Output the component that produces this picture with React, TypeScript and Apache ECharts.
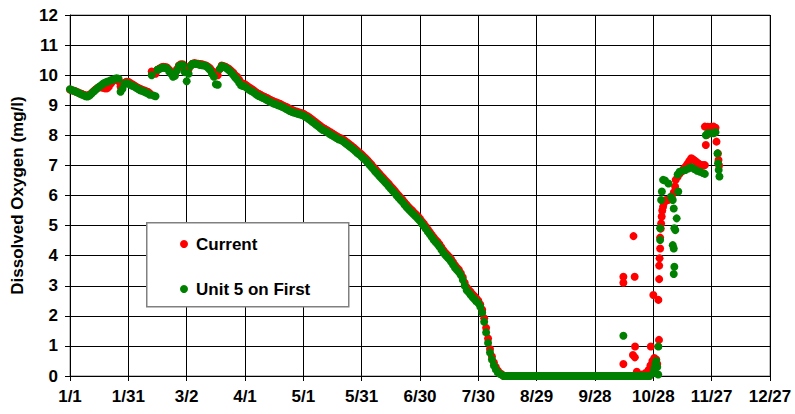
import React, { useEffect, useRef } from "react";
import * as echarts from "echarts";

// Date tick labels (one every 30 days starting 1/1)
const TICK_LABELS = ["1/1", "1/31", "3/2", "4/1", "5/1", "5/31", "6/30", "7/30", "8/29", "9/28", "10/28", "11/27", "12/27"];
const DAYS_PER_TICK = 30;

// Daily readings from day 0 (1/1) up to day 298 (just before fall turnover)
const currentSeason = [
  9.52, 9.50, 9.48, 9.46, 9.43, 9.40, 9.38, 9.35, 9.33, 9.32,
  9.35, 9.40, 9.46, 9.52, 9.57, 9.60, 9.60, 9.58, 9.56, 9.56,
  9.62, 9.72, 9.80, 9.85, 9.88, 9.80, 9.62, 9.65, 9.75, 9.78,
  9.78, 9.74, 9.70, 9.66, 9.62, 9.58, 9.55, 9.52, 9.50, 9.47,
  9.45, 9.40, 10.12, 10.08, 10.05, 10.18, 10.22, 10.26, 10.28, 10.27,
  10.25, 10.18, 10.10, 10.05, 10.05, 10.20, 10.32, 10.36, 10.36, 10.20,
  10.12, 10.20, 10.32, 10.38, 10.40, 10.39, 10.38, 10.37, 10.36, 10.34,
  10.32, 10.28, 10.23, 10.15, 10.10, 10.02, 10.00, 10.20, 10.32, 10.30,
  10.28, 10.24, 10.20, 10.14, 10.08, 10.00, 9.95, 9.85, 9.74, 9.72,
  9.70, 9.65, 9.60, 9.56, 9.52, 9.47, 9.42, 9.38, 9.35, 9.31,
  9.28, 9.25, 9.22, 9.18, 9.15, 9.12, 9.10, 9.07, 9.05, 9.01,
  8.98, 8.95, 8.92, 8.88, 8.85, 8.82, 8.80, 8.78, 8.76, 8.74,
  8.72, 8.68, 8.64, 8.60, 8.55, 8.50, 8.45, 8.40, 8.35, 8.30,
  8.25, 8.22, 8.18, 8.14, 8.10, 8.06, 8.02, 7.98, 7.94, 7.91,
  7.88, 7.84, 7.79, 7.74, 7.69, 7.64, 7.59, 7.53, 7.47, 7.42,
  7.36, 7.30, 7.24, 7.17, 7.10, 7.03, 6.95, 6.88, 6.81, 6.73,
  6.66, 6.59, 6.52, 6.45, 6.38, 6.30, 6.23, 6.16, 6.08, 6.00,
  5.93, 5.86, 5.78, 5.70, 5.63, 5.56, 5.50, 5.43, 5.37, 5.30,
  5.23, 5.14, 5.06, 4.97, 4.88, 4.79, 4.70, 4.61, 4.53, 4.46,
  4.38, 4.28, 4.18, 4.10, 4.03, 3.96, 3.88, 3.78, 3.68, 3.60,
  3.53, 3.42, 3.28, 3.10, 2.95, 2.87, 2.80, 2.72, 2.65, 2.58,
  2.50, 2.38, 2.20, 1.92, 1.60, 1.25, 0.90, 0.65, 0.45, 0.30,
  0.18, 0.10, 0.06, 0, 0, 0, 0, 0, 0, 0,
  0, 0, 0, 0, 0, 0, 0, 0, 0, 0,
  0, 0, 0, 0, 0, 0, 0, 0, 0, 0,
  0, 0, 0, 0, 0, 0, 0, 0, 0, 0,
  0, 0, 0, 0, 0, 0, 0, 0, 0, 0,
  0, 0, 0, 0, 0, 0, 0, 0, 0, 0,
  0, 0, 0, 0, 0, 0, 0, 0, 0, 0,
  0, 0, 0, 0, 0, 0, 0, 0, 0,
];

const unitSeason = [
  9.53, 9.50, 9.48, 9.45, 9.42, 9.39, 9.36, 9.33, 9.30, 9.29,
  9.32, 9.38, 9.45, 9.50, 9.56, 9.62, 9.66, 9.72, 9.75, 9.78,
  9.80, 9.83, 9.85, 9.88, 9.90, 9.88, 9.45, 9.55, 9.70, 9.74,
  9.72, 9.68, 9.65, 9.62, 9.58, 9.54, 9.50, 9.48, 9.46, 9.42,
  9.40, 9.35, 10.00, 9.32, 9.30, 10.18, 10.20, 10.24, 10.25, 10.24,
  10.22, 10.12, 10.05, 9.95, 9.98, 10.15, 10.30, 10.34, 10.34, 10.10,
  9.80, 10.05, 10.30, 10.38, 10.38, 10.37, 10.36, 10.34, 10.33, 10.32,
  10.30, 10.24, 10.17, 10.05, 9.95, 9.70, 9.68, 10.20, 10.30, 10.28,
  10.25, 10.20, 10.15, 10.08, 10.00, 9.92, 9.85, 9.75, 9.66, 9.64,
  9.62, 9.57, 9.52, 9.48, 9.45, 9.40, 9.35, 9.31, 9.28, 9.25,
  9.22, 9.18, 9.15, 9.11, 9.08, 9.05, 9.03, 9.00, 8.98, 8.95,
  8.92, 8.88, 8.85, 8.81, 8.78, 8.76, 8.74, 8.72, 8.70, 8.68,
  8.66, 8.62, 8.58, 8.53, 8.48, 8.43, 8.38, 8.33, 8.28, 8.23,
  8.18, 8.15, 8.12, 8.07, 8.03, 7.99, 7.95, 7.91, 7.87, 7.85,
  7.82, 7.77, 7.72, 7.67, 7.62, 7.57, 7.52, 7.46, 7.40, 7.35,
  7.29, 7.23, 7.17, 7.10, 7.02, 6.95, 6.87, 6.80, 6.73, 6.65,
  6.58, 6.51, 6.44, 6.37, 6.30, 6.22, 6.15, 6.08, 6.00, 5.92,
  5.85, 5.78, 5.70, 5.62, 5.55, 5.48, 5.42, 5.35, 5.29, 5.22,
  5.15, 5.06, 4.98, 4.89, 4.80, 4.71, 4.62, 4.53, 4.45, 4.38,
  4.30, 4.20, 4.10, 4.02, 3.95, 3.88, 3.80, 3.70, 3.60, 3.52,
  3.45, 3.35, 3.20, 3.00, 2.85, 2.78, 2.70, 2.62, 2.55, 2.48,
  2.42, 2.30, 2.10, 1.80, 1.45, 1.10, 0.78, 0.55, 0.35, 0.22,
  0.12, 0.07, 0.04, 0, 0, 0, 0, 0, 0, 0,
  0, 0, 0, 0, 0, 0, 0, 0, 0, 0,
  0, 0, 0, 0, 0, 0, 0, 0, 0, 0,
  0, 0, 0, 0, 0, 0, 0, 0, 0, 0,
  0, 0, 0, 0, 0, 0, 0, 0, 0, 0,
  0, 0, 0, 0, 0, 0, 0, 0, 0, 0,
  0, 0, 0, 0, 0, 0, 0, 0, 0, 0,
  0, 0, 0, 0, 0, 0, 0, 0, 0,
];

// Fall turnover period: [day of year, mg/l]
const currentFall: [number, number][] = [
  [284.6, 3.30], [284.6, 3.10], [284.6, 0.40], [289.8, 4.65], [290.4, 3.30],
  [290.6, 0.98], [289.5, 0.70], [290.5, 0.62], [291.5, 0.14], [294, 0.05],
  [296, 0.10], [298.7, 0.98], [297.5, 0.20], [298.5, 0.35], [299.5, 0.50],
  [300.5, 0.60], [301.5, 0.55], [302, 0.40], [300, 0.30], [300, 2.69],
  [302.6, 2.53], [302.9, 1.20], [303, 3.22], [303, 3.67], [303.2, 3.91],
  [303.5, 4.24], [303.5, 4.60], [303.8, 4.90], [304, 5.07], [304.3, 5.30],
  [304.6, 5.50], [305, 5.63], [305.5, 5.75], [306.5, 5.85], [307.5, 5.85],
  [308.5, 5.88], [309.5, 5.95], [310.5, 6.10], [311.2, 6.30], [311.5, 6.52],
  [312.5, 6.62], [313.5, 6.72], [314.5, 6.80], [315.5, 6.88], [316.5, 6.96],
  [317.5, 7.05], [318.5, 7.15], [319.5, 7.24], [320.5, 7.20], [321.5, 7.15],
  [322.5, 7.10], [323.5, 7.05], [324.5, 7.01], [325.5, 7.01], [326.5, 7.01],
  [327, 7.68], [327.5, 8.01], [326.5, 8.29], [328, 8.28], [329.5, 8.28],
  [331, 8.29], [332, 8.25], [332.5, 7.79], [333.2, 7.40], [333.5, 7.18],
  [333.8, 7.00],
];

const unitFall: [number, number][] = [
  [284.6, 1.34], [300, 0.10], [300.5, 0.25], [301, 0.40], [301.5, 0.50],
  [302, 0.30], [302.5, 0.05], [302.6, 0.98], [303.5, 4.52], [303.5, 4.91],
  [304, 5.85], [304.4, 6.13], [305, 6.52], [306, 6.50], [307.8, 6.40],
  [309, 5.96], [310, 5.85], [310.5, 5.57], [312.8, 6.13], [312, 5.24],
  [310.8, 4.91], [311.3, 4.85], [310, 4.35], [310.5, 4.24], [310.8, 3.63],
  [310.5, 3.39], [312.5, 6.70], [313.5, 6.79], [315, 6.82], [316.5, 6.85],
  [318, 6.90], [319.5, 6.94], [321, 6.88], [322.5, 6.82], [324, 6.79],
  [325.5, 6.75], [326.5, 6.72], [327, 8.00], [328, 8.07], [329.5, 8.07],
  [331, 8.07], [332, 8.10], [333, 7.40], [333.3, 7.07], [333.6, 6.85],
  [334, 6.63],
];

const SERIES_NAMES = ["Current", "Unit 5 on First"];
const FONT = "Arial, 'Liberation Sans', sans-serif";

function seasonPoints(values: number[]): [number, number][] {
  return values.map((v, day) => [day, v]);
}

export default function App() {
  const ref = useRef<HTMLDivElement>(null);

  useEffect(() => {
    if (!ref.current) return;
    const chart = echarts.init(ref.current, null, { renderer: "svg" });
    const labelStyle = { color: "#000", fontWeight: "bold" as const, fontSize: 17, fontFamily: FONT };
    chart.setOption({
      animation: false,
      backgroundColor: "#fff",
      grid: {
        left: 70, right: 25, top: 15, bottom: 38,
        show: true, borderColor: "#808080", borderWidth: 1, backgroundColor: "transparent",
      },
      xAxis: {
        type: "value", min: 0, max: 360, interval: DAYS_PER_TICK,
        axisLine: { show: true, onZero: false, lineStyle: { color: "#000", width: 1 } },
        axisTick: { show: true, length: 5, lineStyle: { color: "#000" } },
        axisLabel: {
          ...labelStyle, margin: 12,
          formatter: (v: number) => TICK_LABELS[Math.round(v / DAYS_PER_TICK)] ?? "",
        },
        splitLine: { show: true, lineStyle: { color: "#000", width: 1 } },
      },
      yAxis: {
        type: "value", min: 0, max: 12, interval: 1,
        name: "Dissolved Oxygen (mg/l)", nameLocation: "middle", nameGap: 44, nameRotate: 90,
        nameTextStyle: { ...labelStyle },
        axisLine: { show: true, lineStyle: { color: "#000", width: 1 } },
        axisTick: { show: true, length: 5, lineStyle: { color: "#000" } },
        axisLabel: { ...labelStyle, margin: 12 },
        splitLine: { show: true, lineStyle: { color: "#000", width: 1 } },
      },
      legend: {
        orient: "vertical", left: 180, top: 234, itemGap: 25,
        itemWidth: 8, itemHeight: 8, icon: "circle", padding: 0, z: 20,
        textStyle: { ...labelStyle, lineHeight: 20, padding: [0, 0, 0, 3] },
        data: SERIES_NAMES,
      },
      graphic: [
        {
          type: "rect", left: 146, top: 222, z: 10,
          shape: { width: 202, height: 84 },
          style: { fill: "#fff", stroke: "#808080", lineWidth: 1.5 },
        },
      ],
      series: [
        {
          name: SERIES_NAMES[0], type: "scatter", symbolSize: 8,
          itemStyle: { color: "#FF0000", opacity: 1 },
          data: [...seasonPoints(currentSeason), ...currentFall],
          z: 2,
        },
        {
          name: SERIES_NAMES[1], type: "scatter", symbolSize: 8,
          itemStyle: { color: "#008000", opacity: 1 },
          data: [...seasonPoints(unitSeason), ...unitFall],
          z: 3,
        },
      ],
    });
    return () => chart.dispose();
  }, []);

  return (
    <div
      ref={ref}
      style={{ position: "fixed", left: 0, top: 0, width: 795, height: 414, background: "#fff" }}
    />
  );
}
